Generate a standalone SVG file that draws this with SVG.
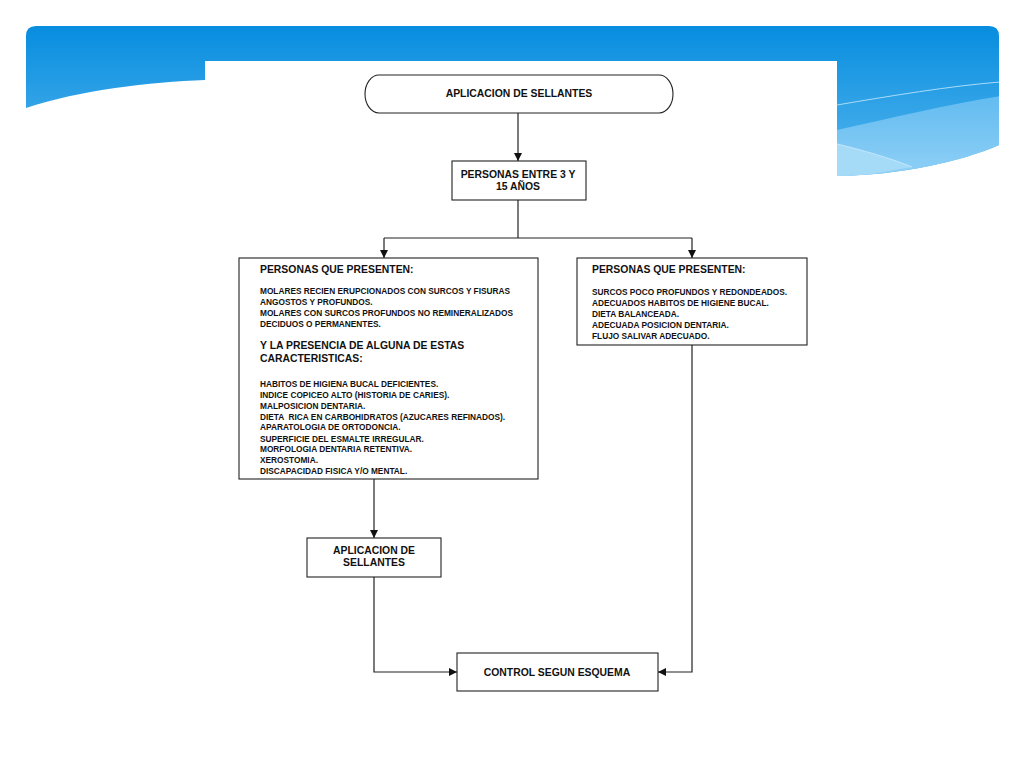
<svg xmlns="http://www.w3.org/2000/svg" width="1024" height="768" viewBox="0 0 1024 768">
  <defs>
    <linearGradient id="hdr" x1="0" y1="26" x2="0" y2="176" gradientUnits="userSpaceOnUse">
      <stop offset="0" stop-color="#078ddf"/>
      <stop offset="1" stop-color="#56b6ee"/>
    </linearGradient>
    <linearGradient id="band" x1="0" y1="95" x2="0" y2="176" gradientUnits="userSpaceOnUse">
      <stop offset="0" stop-color="#62bbf0"/>
      <stop offset="1" stop-color="#8fd0f6"/>
    </linearGradient>
    <clipPath id="hclip">
      <path d="M26,36 Q26,26 36,26 H989 Q999,26 999,36 V145 C960,162 900,175 837,176 L205,80 C150,82 80,90 26,108 Z"/>
    </clipPath>
    <marker id="arr" viewBox="0 0 10 10" refX="10" refY="5" markerWidth="8" markerHeight="8" markerUnits="userSpaceOnUse" orient="auto">
      <path d="M0,0 L10,5 L0,10 Z" fill="#111"/>
    </marker>
    <style>
      .box { fill: #fff; stroke: #222; stroke-width: 1.1; }
      .ln { fill: none; stroke: #222; stroke-width: 1.2; }
      .t { font-family: "Liberation Sans", Arial, sans-serif; font-weight: bold; fill: #111; }
      .big { font-size: 10.4px; }
      .sm { font-size: 8.3px; }
      .c { text-anchor: middle; }
    </style>
  </defs>

  <rect width="1024" height="768" fill="#fff"/>

  <!-- header decoration -->
  <g id="header">
    <path d="M26,36 Q26,26 36,26 H989 Q999,26 999,36 V145 C960,162 900,175 837,176 L205,80 C150,82 80,90 26,108 Z" fill="url(#hdr)"/>
    <g clip-path="url(#hclip)">
      <path d="M837,130 C890,118 950,104 1000,96 V180 H837 Z" fill="url(#band)"/>
      <path d="M837,144 C870,152 895,160 912,167 L837,180 Z" fill="#a6dbf8"/>
      <path d="M837,105 C890,96 950,86 1000,82" fill="none" stroke="#a9dcf8" stroke-width="1"/>
      <path d="M837,144 C870,152 895,160 912,167" fill="none" stroke="#c4e7fb" stroke-width="1"/>
    </g>
    <rect x="205" y="61" width="632" height="707" fill="#fff"/>
  </g>

  <!-- connectors -->
  <g id="connectors">
    <line class="ln" x1="518" y1="113" x2="518" y2="161" marker-end="url(#arr)"/>
    <polyline class="ln" points="518,200 518,238"/>
    <polyline class="ln" points="384,238 692,238"/>
    <line class="ln" x1="384" y1="238" x2="384" y2="258" marker-end="url(#arr)"/>
    <line class="ln" x1="692" y1="238" x2="692" y2="258" marker-end="url(#arr)"/>
    <line class="ln" x1="374" y1="479" x2="374" y2="538" marker-end="url(#arr)"/>
    <polyline class="ln" points="374,577 374,672 457,672" marker-end="url(#arr)"/>
    <polyline class="ln" points="692,345 692,672 658,672" marker-end="url(#arr)"/>
  </g>

  <g id="start">
    <rect class="box" x="365" y="75" width="308" height="38" rx="14" ry="19"/>
    <text class="t big c" x="519" y="97">APLICACION DE SELLANTES</text>
  </g>

  <g id="edad">
    <rect class="box" x="452" y="161" width="134" height="39"/>
    <text class="t big c" x="518" y="178">PERSONAS ENTRE 3 Y</text>
    <text class="t big c" x="518" y="190">15 AÑOS</text>
  </g>

  <g id="riesgo">
    <rect class="box" x="239" y="258" width="299" height="221"/>
    <text class="t big" x="260" y="273">PERSONAS QUE PRESENTEN:</text>
    <text class="t sm" x="260" y="294">MOLARES RECIEN ERUPCIONADOS CON SURCOS Y FISURAS</text>
    <text class="t sm" x="260" y="305">ANGOSTOS Y PROFUNDOS.</text>
    <text class="t sm" x="260" y="316">MOLARES CON SURCOS PROFUNDOS NO REMINERALIZADOS</text>
    <text class="t sm" x="260" y="327">DECIDUOS O PERMANENTES.</text>
    <text class="t big" x="260" y="349">Y LA PRESENCIA DE ALGUNA DE ESTAS</text>
    <text class="t big" x="260" y="362">CARACTERISTICAS:</text>
    <text class="t sm" x="260" y="387">HABITOS DE HIGIENA BUCAL DEFICIENTES.</text>
    <text class="t sm" x="260" y="398">INDICE COPICEO ALTO (HISTORIA DE CARIES).</text>
    <text class="t sm" x="260" y="409">MALPOSICION DENTARIA.</text>
    <text class="t sm" x="260" y="420" xml:space="preserve">DIETA  RICA EN CARBOHIDRATOS (AZUCARES REFINADOS).</text>
    <text class="t sm" x="260" y="430">APARATOLOGIA DE ORTODONCIA.</text>
    <text class="t sm" x="260" y="442">SUPERFICIE DEL ESMALTE IRREGULAR.</text>
    <text class="t sm" x="260" y="452">MORFOLOGIA DENTARIA RETENTIVA.</text>
    <text class="t sm" x="260" y="463">XEROSTOMIA.</text>
    <text class="t sm" x="260" y="474">DISCAPACIDAD FISICA Y/O MENTAL.</text>
  </g>

  <g id="sano">
    <rect class="box" x="577" y="258" width="230" height="87"/>
    <text class="t big" x="592" y="273">PERSONAS QUE PRESENTEN:</text>
    <text class="t sm" x="592" y="295">SURCOS POCO PROFUNDOS Y REDONDEADOS.</text>
    <text class="t sm" x="592" y="306">ADECUADOS HABITOS DE HIGIENE BUCAL.</text>
    <text class="t sm" x="592" y="317">DIETA BALANCEADA.</text>
    <text class="t sm" x="592" y="328">ADECUADA POSICION DENTARIA.</text>
    <text class="t sm" x="592" y="339">FLUJO SALIVAR ADECUADO.</text>
  </g>

  <g id="aplicacion">
    <rect class="box" x="307" y="538" width="134" height="39"/>
    <text class="t big c" x="374" y="554">APLICACION DE</text>
    <text class="t big c" x="374" y="566">SELLANTES</text>
  </g>

  <g id="control">
    <rect class="box" x="457" y="653" width="201" height="38"/>
    <text class="t big c" x="557" y="676">CONTROL SEGUN ESQUEMA</text>
  </g>
</svg>
